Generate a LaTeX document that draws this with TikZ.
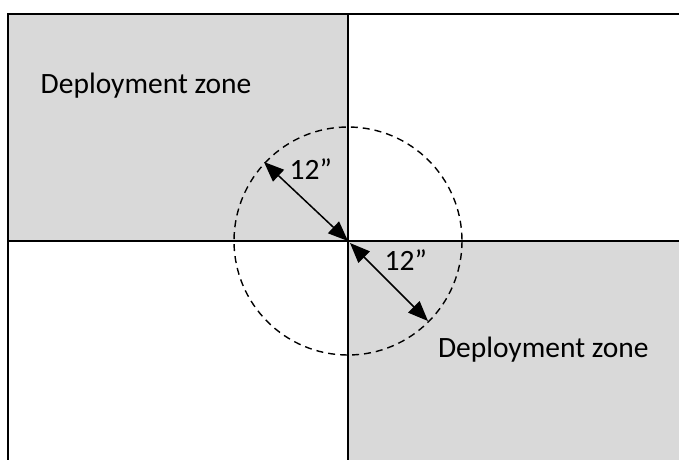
\documentclass[tikz,border=0pt]{standalone}
\usepackage{fontspec}
\setmainfont{Carlito}
\usetikzlibrary{arrows.meta}
\definecolor{zonegrey}{RGB}{217,217,217}
\begin{document}
\begin{tikzpicture}[x=1pt,y=-1pt,
  border/.style={line width=2pt,black},
  axis/.style={line width=1.8pt,black},
  ring/.style={line width=1.4pt,dash pattern=on 7pt off 5pt},
  dimarrow/.style={line width=1.5pt,{Triangle[length=20pt,width=16pt]}-{Triangle[length=20pt,width=16pt]}},
  label/.style={font=\fontsize{29.5}{34}\selectfont,inner sep=0pt,anchor=base west}]
\clip (0,0) rectangle (679,459);
\fill[white] (0,0) rectangle (679,459);
% named coordinates
\coordinate (c) at (348,241);
\coordinate (tl) at (8,14);
\coordinate (br) at (700,480);
\coordinate (top) at (348,14);
\coordinate (bot) at (348,480);
\coordinate (lft) at (8,241);
\coordinate (rgt) at (700,241);
\coordinate (p1) at (264,162);
\coordinate (c2) at (350,243);
\coordinate (p2) at (428,321);
% zones
\fill[zonegrey] (tl) rectangle (c);
\fill[zonegrey] (c) rectangle (br);
% axes
\draw[axis] (lft) -- (rgt);
\draw[axis] (top) -- (bot);
\draw[border] (tl) rectangle (br);
% circle
\draw[ring] (c) circle (114);
% arrows
\draw[dimarrow] (p1) -- (c);
\draw[dimarrow] (c2) -- (p2);
% labels
\node[label] (z1) at (40.5,93.3) {Deployment zone};
\node[label] (z2) at (437.8,357) {Deployment zone};
\node[label] (d1) at (289.5,179) {12”};
\node[label] (d2) at (384.5,270.7) {12”};
\end{tikzpicture}
\end{document}
